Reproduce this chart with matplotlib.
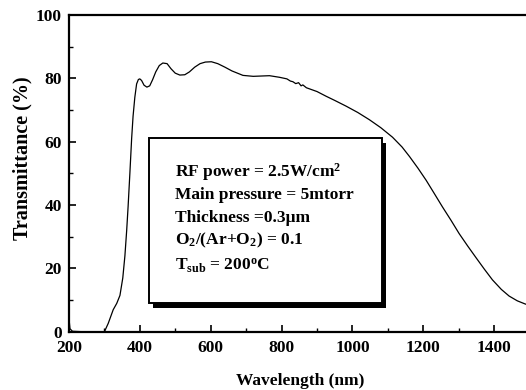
import matplotlib
matplotlib.use("Agg")   # no display
import matplotlib.pyplot as plt   # plotting
from matplotlib.patches import Rectangle   # text box
from matplotlib.ticker import MultipleLocator   # ticks


# wavelength (nm) and transmittance (%)
wavelength = [200, 203, 210, 250, 300, 311, 325, 335, 344, 352, 358, 363, 367, 372,
              377, 381, 386, 391, 396, 400, 405, 412, 420, 428, 436, 445, 455, 465,
              477, 488, 500, 513, 527, 540, 555, 570, 585, 602, 620, 640, 660, 691,
              720, 766, 794, 815, 825, 832, 840, 848, 855, 860, 870, 885, 900, 926,
              950, 982, 1015, 1048, 1080, 1113, 1140, 1161, 1185, 1208, 1230, 1254,
              1278, 1301, 1325, 1348, 1372, 1395, 1420, 1442, 1465, 1485, 1500]
transmittance = [4.5, 1.0, 0.2, 0.0, 0.0, 2.7, 7.0, 9.0, 11.5, 17.0, 24.0, 32.0, 39.5, 50.0,
                 61.0, 68.0, 74.0, 78.2, 79.6, 79.8, 79.3, 77.8, 77.2, 77.6, 79.5, 82.0, 84.0, 84.8,
                 84.6, 83.0, 81.6, 81.0, 81.1, 82.0, 83.5, 84.6, 85.1, 85.2, 84.6, 83.5, 82.3, 80.9,
                 80.6, 80.8, 80.3, 79.8, 79.1, 78.9, 78.3, 78.6, 77.6, 77.9, 77.0, 76.4, 75.8, 74.3,
                 73.0, 71.2, 69.2, 66.9, 64.4, 61.4, 58.3, 55.3, 51.6, 47.8, 43.8, 39.4,
                 35.2, 31.0, 27.1, 23.5, 19.8, 16.4, 13.4, 11.3, 9.8, 8.9, 8.3]

# conditions written in the box
box_lines = ["RF power = 2.5W/cm$^2$",
             "Main pressure = 5mtorr",
             "Thickness =0.3\u03bcm",
             "O$_2$/(Ar+O$_2$) = 0.1",
             "T$_{sub}$ = 200$^o$C"]


# font setup (Times-like bold)
plt.rcParams["font.family"] = ["Liberation Serif", "DejaVu Serif"]
plt.rcParams["font.weight"] = "bold"
plt.rcParams["mathtext.fontset"] = "custom"
plt.rcParams["mathtext.rm"] = "Liberation Serif:bold"
plt.rcParams["mathtext.it"] = "Liberation Serif:bold"
plt.rcParams["mathtext.bf"] = "Liberation Serif:bold"
plt.rcParams["mathtext.default"] = "rm"

fig = plt.figure(figsize=(5.26, 3.90), dpi=100)
ax = fig.add_axes([0.131, 0.149, 0.876, 0.813])

# curve
ax.plot(wavelength, transmittance, color="black", linewidth=0.9)

# axes
ax.set_xlim(200, 1500)
ax.set_ylim(0, 100)
ax.xaxis.set_major_locator(MultipleLocator(200))
ax.xaxis.set_minor_locator(MultipleLocator(100))
ax.yaxis.set_major_locator(MultipleLocator(20))
ax.yaxis.set_minor_locator(MultipleLocator(10))
ax.tick_params(which="major", direction="in", length=5, width=1.2, labelsize=12.5)
ax.tick_params(axis="x", which="major", pad=6)
ax.tick_params(axis="y", which="major", pad=5)
ax.tick_params(which="minor", direction="in", length=3, width=1.0)
for spine in ax.spines.values():
    spine.set_linewidth(1.6)
for lbl in ax.get_xticklabels() + ax.get_yticklabels():
    lbl.set_fontweight("bold")

ax.set_xlabel("Wavelength (nm)", fontsize=12.5, fontweight="bold")
ax.set_ylabel("Transmittance (%)", fontsize=14.5, fontweight="bold")
ax.xaxis.set_label_coords(0.503, -0.13)
ax.yaxis.set_label_coords(-0.078, 0.549)

# box with shadow
ax.add_patch(Rectangle((438, 7.5), 658, 52.0, facecolor="black", edgecolor="none", zorder=3))
ax.add_patch(Rectangle((425, 9.1), 657, 52.1, facecolor="white", edgecolor="black",
                       linewidth=1.4, zorder=4))
y_pos = [50.5, 43.3, 36.0, 29.0, 21.0]
for text, yy in zip(box_lines, y_pos):
    ax.text(498, yy, text, fontsize=12.5, fontweight="bold", va="center", ha="left", zorder=5)

fig.savefig("out.png", dpi=100)
